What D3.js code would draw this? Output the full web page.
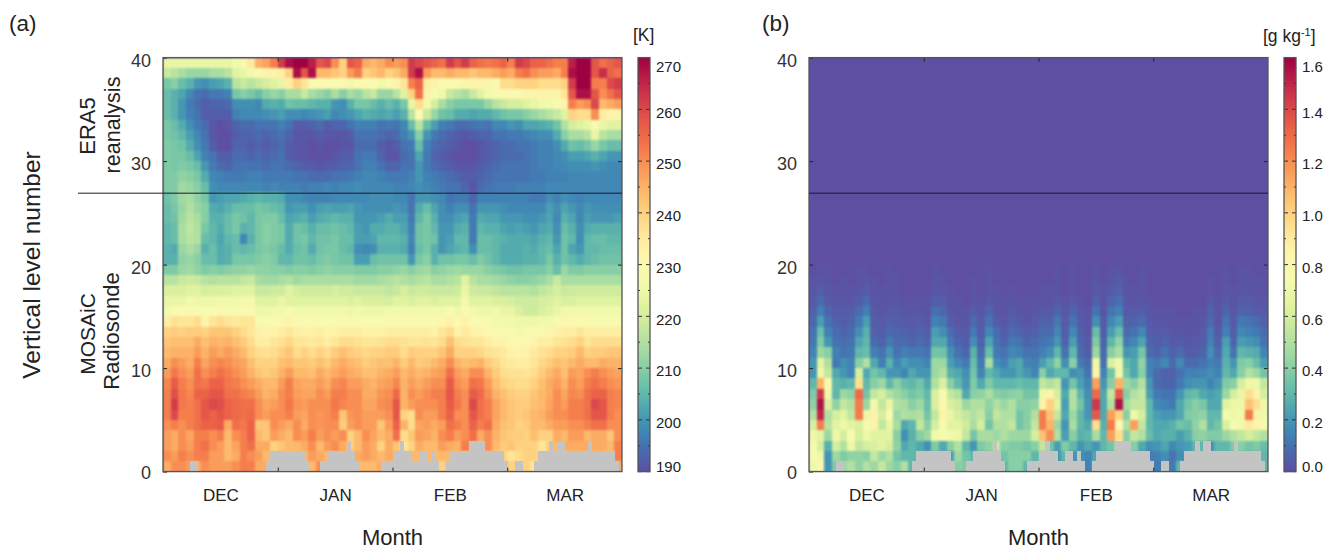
<!DOCTYPE html>
<html>
<head>
<meta charset="utf-8">
<script src="https://d3js.org/d3.v7.min.js"></script>
<style>
    body { margin: 0; background: #fff; }
    text { font-family: "Liberation Sans", Arial, sans-serif; fill: #222; }
    .heat { filter: blur(0.9px); }
</style>
</head>
<body>
<svg id="chart" width="1331" height="550"></svg>
<script>
// Month labels, the day they sit at, and the month boundaries (days from start of record)
const months = ["DEC", "JAN", "FEB", "MAR"];
const monthMid = [15, 45, 75, 105];
const monthEdges = [30, 60, 90];
const levelTicks = [0, 10, 20, 30, 40];
const tempTicks = [190, 200, 210, 220, 230, 240, 250, 260, 270];
const qvTicks = [0, 0.2, 0.4, 0.6, 0.8, 1.0, 1.2, 1.4, 1.6];

// Number of levels without data (grey), one entry per day
const missingLevels = [
    0,0,0,0,0,0,0,1,1,0,0,0,0,0,0,0,0,0,0,0,0,0,0,0,0,0,0,1,2,2,
    2,2,2,2,2,2,2,1,0,0,0,1,1,2,2,2,2,2,3,2,1,0,0,0,0,0,0,1,1,1,
    2,2,3,2,2,1,1,2,2,1,2,1,0,0,1,2,2,2,2,2,3,3,3,3,2,2,2,2,2,1,
    0,0,1,1,0,0,0,1,2,2,2,3,2,3,3,2,2,2,2,2,2,3,2,2,2,2,2,2,1,0
];

// Temperature [K], 2-day columns, rows from level 40 down to level 1
const tempRows = [
    [224,224,224,224,224,224,224,224,224,226,228,235,245,247,252,262,268,270,270,266,258,260,250,240,258,256,246,244,246,250,248,250,262,260,258,256,254,262,258,262,256,254,253,254,256,252,262,260,256,256,254,252,252,266,270,270,258,254,256,258],
    [218,216,214,212,212,212,214,214,216,222,224,226,230,232,232,234,240,268,258,268,244,244,242,240,248,252,240,242,244,240,242,246,262,268,248,244,244,246,244,244,242,244,244,246,248,246,252,254,250,248,248,246,252,268,270,270,258,264,256,254],
    [208,210,206,204,200,199,201,202,204,216,218,216,218,220,222,224,234,240,236,228,230,230,228,230,226,228,230,230,226,228,232,236,252,256,234,232,230,230,228,232,232,232,232,230,238,238,240,240,240,238,238,238,240,262,270,270,252,252,260,262],
    [206,204,202,198,195,194,196,196,197,208,210,208,206,210,212,210,214,214,218,214,212,210,214,210,214,212,216,218,212,212,216,222,240,254,232,228,226,218,216,214,218,222,226,228,230,230,230,232,232,232,232,232,236,258,268,268,258,250,254,258],
    [206,204,200,196,194,192,193,193,194,199,199,199,198,203,204,203,207,206,206,205,204,204,200,199,204,208,208,206,204,206,204,208,224,238,226,220,214,210,208,208,208,208,212,216,218,220,220,222,224,226,226,228,232,252,248,250,260,244,246,248],
    [206,204,200,197,195,192,192,192,192,197,198,198,198,199,200,201,199,199,198,199,200,201,198,199,200,202,204,203,202,203,201,204,216,230,218,212,207,206,203,203,202,203,203,205,207,208,208,210,212,214,216,218,222,240,238,238,250,234,232,232],
    [208,206,203,199,196,194,191,190,191,193,194,194,195,195,195,197,195,192,192,193,194,192,193,193,195,197,197,197,195,196,195,198,206,216,206,201,197,196,194,194,195,196,195,198,198,200,199,202,202,203,204,207,215,220,222,224,228,224,222,222],
    [208,207,205,201,198,195,191,190,190,192,193,193,194,193,194,195,193,191,191,191,192,191,191,191,192,195,195,195,194,193,194,197,200,210,200,196,194,193,192,191,192,193,193,195,195,196,196,197,198,199,199,203,210,214,214,216,224,216,214,214],
    [209,208,207,203,199,196,192,190,190,193,193,192,193,192,193,194,192,191,191,190,191,190,190,191,191,194,194,194,192,191,192,195,196,206,197,194,193,192,191,190,190,191,192,193,194,194,195,195,196,197,197,199,203,207,206,208,212,208,206,206],
    [209,208,208,206,202,197,195,192,192,194,194,193,194,193,194,195,192,191,191,190,190,190,191,192,192,195,196,196,193,191,191,194,195,202,196,193,192,191,190,190,190,191,192,193,194,194,194,195,196,197,197,198,199,201,201,202,204,202,200,200],
    [209,208,209,208,206,200,196,194,193,195,195,195,195,194,195,195,194,193,192,192,191,192,192,193,193,195,197,197,195,193,193,195,195,200,196,194,193,192,191,191,191,192,193,194,195,195,195,195,196,197,197,198,198,199,199,199,200,199,198,198],
    [209,209,211,210,208,203,198,197,196,196,196,197,197,196,196,196,196,195,195,194,194,194,195,195,196,197,198,198,197,196,196,196,197,200,197,196,195,194,193,192,192,193,194,195,195,195,195,195,196,196,197,197,197,198,198,198,198,198,198,198],
    [209,209,213,212,210,206,199,198,198,198,198,198,198,197,198,197,197,197,196,197,197,198,197,198,198,199,198,198,198,198,197,197,198,199,198,197,196,195,195,193,191,194,195,196,196,196,197,197,197,197,198,198,198,198,198,198,198,198,198,198],
    [207,209,213,214,211,208,200,201,202,202,203,204,205,204,204,203,199,199,198,197,197,197,198,198,198,198,198,199,199,199,198,198,195,200,200,199,198,195,196,196,193,197,197,197,197,197,197,197,196,196,199,197,199,198,197,198,198,198,198,198],
    [206,208,212,215,212,210,203,202,204,206,206,206,208,207,206,205,200,201,201,199,201,202,201,201,202,200,199,199,199,199,200,199,195,203,206,202,199,197,199,199,195,200,200,200,199,198,198,198,198,198,201,199,202,200,198,200,199,199,199,199],
    [206,207,213,216,214,210,204,204,206,208,207,205,208,209,209,206,202,203,204,201,203,204,205,204,204,200,200,200,201,203,201,201,196,205,208,204,199,199,201,202,196,203,202,202,200,200,200,199,199,200,202,198,204,202,198,201,200,200,200,201],
    [205,206,214,217,215,208,205,203,206,208,204,205,208,210,209,208,203,207,206,204,206,206,207,206,205,201,200,203,203,204,204,202,197,207,208,205,200,200,203,204,196,205,204,204,202,201,202,201,200,202,203,199,206,204,199,203,204,204,204,204],
    [205,206,214,216,215,206,205,202,205,206,198,204,208,210,209,208,203,207,208,205,207,207,208,206,206,201,201,202,205,205,205,204,198,207,208,207,200,201,205,205,196,206,206,205,204,203,203,203,202,204,205,200,207,205,199,205,206,206,205,205],
    [204,203,212,214,212,204,206,203,204,206,205,206,208,209,208,206,203,206,207,203,207,208,208,206,205,199,198,199,204,204,204,203,197,206,208,204,200,202,204,205,199,206,206,205,203,203,203,204,203,205,206,202,207,202,200,205,205,206,206,206],
    [204,204,211,212,210,206,206,203,204,208,208,208,209,210,209,205,205,207,207,206,208,209,208,207,207,201,201,206,207,207,207,207,200,208,210,204,207,207,208,208,206,209,207,205,203,203,203,204,204,205,208,204,207,205,203,205,206,207,207,207],
    [209,209,212,213,211,209,210,209,210,211,211,212,211,211,210,210,209,210,210,209,210,211,210,210,210,209,209,209,210,210,211,212,210,212,213,210,211,212,213,212,212,212,210,209,208,207,207,208,208,208,210,206,212,209,209,210,210,210,210,210],
    [216,216,218,219,218,216,215,216,216,216,217,218,214,213,213,214,215,213,214,214,214,214,214,214,214,213,213,213,214,215,216,215,214,215,216,214,214,215,216,222,216,214,214,213,212,211,210,210,211,212,214,218,214,214,214,214,214,214,214,214],
    [221,221,221,222,222,220,221,221,221,222,222,222,218,218,219,219,222,220,219,219,219,219,220,219,219,218,218,218,218,217,218,220,218,219,219,218,218,218,219,224,219,218,218,217,216,216,216,216,215,217,218,220,218,219,219,219,219,219,219,219],
    [224,224,224,226,225,225,225,226,226,226,227,227,222,222,222,224,222,222,222,222,222,222,222,222,221,222,221,221,221,220,222,222,221,222,222,221,222,222,222,227,222,222,222,221,221,220,219,219,219,220,221,222,221,221,222,222,222,222,222,222],
    [226,229,228,229,228,228,229,231,228,228,230,230,225,225,226,226,229,226,226,226,226,226,226,226,225,226,225,225,225,226,226,226,226,226,226,226,226,228,225,229,226,225,225,226,224,224,221,219,219,221,222,224,226,226,226,226,226,226,226,226],
    [234,237,236,236,238,232,236,238,236,235,236,236,228,229,229,228,232,229,228,229,228,228,229,229,229,229,228,228,228,228,230,229,229,228,229,229,231,233,229,233,229,228,228,227,227,226,225,225,225,226,226,228,231,231,229,230,229,228,228,228],
    [240,241,240,241,241,240,242,242,242,240,238,236,233,232,233,234,236,234,233,233,234,232,233,234,234,234,233,233,233,234,234,234,234,234,234,233,236,238,233,235,233,232,231,229,228,228,227,228,228,230,231,233,234,234,236,234,234,234,234,234],
    [242,243,243,243,246,243,245,244,245,243,241,238,234,234,236,237,239,236,236,235,236,234,236,238,238,237,236,236,237,238,238,237,236,236,237,236,238,243,238,237,236,236,234,232,232,231,230,231,232,234,234,236,237,238,240,236,238,238,238,238],
    [244,245,245,245,248,245,248,246,248,246,244,240,238,237,238,240,242,238,240,238,240,238,241,243,241,240,239,240,240,241,241,238,241,240,240,240,242,246,240,240,240,239,237,236,235,233,232,233,235,237,238,240,240,241,244,240,241,241,242,242],
    [246,250,248,246,252,247,250,251,250,248,247,243,240,240,240,243,244,242,242,241,243,241,244,246,244,243,241,242,243,243,245,241,244,241,242,244,246,250,245,243,244,245,241,239,236,235,234,234,236,239,241,243,242,244,246,244,244,246,245,245],
    [248,253,250,248,254,250,252,254,252,250,248,245,242,241,242,245,248,244,244,243,246,244,246,248,246,245,243,243,245,246,248,244,246,244,245,247,248,254,248,246,250,250,245,241,238,237,237,236,238,241,244,246,243,248,247,250,252,250,248,247],
    [251,257,252,250,254,253,256,256,253,252,250,248,246,244,244,248,252,247,246,246,248,246,250,251,248,248,246,245,247,248,251,245,248,246,248,250,250,257,250,248,254,253,248,243,240,239,238,238,240,243,246,248,245,250,248,252,254,252,250,249],
    [252,259,253,251,256,256,258,258,254,254,252,251,248,245,246,250,252,248,247,247,250,248,252,252,250,250,246,246,249,250,255,245,250,248,250,252,252,258,252,250,257,255,250,245,243,241,240,240,242,244,246,250,247,251,250,254,256,256,252,251],
    [252,262,253,252,254,258,260,259,256,255,254,254,250,247,248,250,253,249,248,250,250,250,253,251,250,250,247,247,250,251,258,245,248,250,250,250,252,257,253,250,260,254,252,247,244,242,241,241,243,244,247,250,248,252,252,254,260,258,252,251],
    [252,260,252,252,254,258,256,258,256,255,254,255,250,248,250,250,252,248,247,250,249,250,252,242,249,250,248,248,248,250,258,240,238,250,248,248,252,256,250,250,258,254,252,247,244,242,241,242,244,245,248,250,250,252,252,254,258,258,252,250],
    [250,252,250,252,254,256,256,257,246,254,253,256,242,242,250,248,246,250,246,250,249,250,250,241,248,250,248,248,242,248,256,245,238,247,248,246,248,254,252,250,256,252,254,246,243,242,240,241,244,244,246,248,248,250,250,252,254,254,250,250],
    [248,246,250,247,252,252,250,252,244,250,252,256,244,242,248,246,244,250,248,252,248,250,248,250,240,244,250,247,244,246,254,238,242,248,247,245,250,252,248,250,254,246,250,245,242,241,241,240,243,240,240,246,244,248,248,244,246,246,242,250],
    [248,246,250,248,252,254,250,248,244,247,252,254,246,246,240,242,244,244,246,250,244,248,250,246,240,244,248,246,240,246,242,236,240,246,244,244,248,246,245,252,248,244,250,244,241,242,240,240,240,236,240,244,246,246,246,246,246,246,244,252],
    [250,248,252,250,252,252,248,248,244,246,252,250,248,244,244,246,244,244,244,248,246,244,246,246,246,246,248,246,244,246,246,244,244,244,244,244,244,244,244,244,244,244,244,240,240,236,238,240,240,240,240,244,244,244,244,244,244,244,244,252],
    [246,250,250,248,246,250,248,248,248,250,252,252,246,246,244,244,244,244,244,244,250,246,244,244,244,244,244,244,246,244,244,244,244,244,244,244,240,244,244,244,244,244,244,244,244,240,240,240,236,240,240,244,244,244,244,244,244,244,244,246]
];

// Specific humidity [hundredths of g/kg], rows from level 20 down to level 1, above that it reads 0
const qvRows = [
    [0,1,1,0,0,0,1,1,0,0,1,0,0,0,0,0,1,0,0,0,0,0,0,1,0,0,0,0,0,0,0,0,1,0,1,0,0,1,0,1,2,0,0,1,0,0,0,0,0,0,0,0,0,0,1,0,1,1,0,0],
    [1,2,1,0,1,0,1,2,1,0,1,1,0,0,0,0,1,1,0,0,0,1,0,1,0,0,0,0,0,0,0,0,1,0,1,0,0,2,0,2,3,1,0,1,0,0,0,0,0,0,0,0,1,0,1,0,1,1,1,1],
    [2,4,2,1,1,1,2,4,1,1,2,1,0,0,0,0,2,2,1,0,0,1,0,1,1,0,1,0,0,0,1,1,1,0,1,0,0,3,1,3,5,1,1,1,0,0,0,0,0,0,0,0,1,0,2,1,2,2,1,1],
    [3,8,3,2,2,2,4,8,2,1,2,2,1,1,1,1,4,4,1,1,0,2,1,3,1,1,1,1,1,1,1,1,3,1,3,1,0,5,1,6,9,2,1,2,1,0,0,0,0,0,0,0,3,1,3,1,3,3,2,2],
    [5,14,6,3,3,4,8,14,3,2,3,3,2,2,2,1,9,7,2,1,1,4,2,6,2,1,3,2,1,2,3,3,6,2,6,2,1,10,2,10,14,3,3,4,2,1,1,1,0,0,1,1,5,1,6,2,6,5,4,3],
    [7,22,10,5,4,6,12,22,4,3,5,4,3,3,4,2,14,12,4,2,2,8,3,10,4,2,5,3,2,3,6,5,12,3,10,3,1,18,3,16,22,5,6,8,3,2,2,1,1,1,1,2,8,2,10,3,12,10,8,5],
    [10,32,14,8,6,8,18,28,5,4,8,6,5,4,6,4,22,18,8,4,3,12,4,16,8,4,8,6,4,5,8,8,16,4,16,5,2,32,4,22,32,8,10,16,4,3,4,2,2,1,2,3,12,3,14,4,16,14,12,8],
    [12,38,20,10,8,10,24,30,8,6,12,8,8,6,8,6,25,25,12,6,4,18,6,24,10,6,12,10,6,8,10,12,20,6,22,6,3,38,6,30,42,12,16,24,6,4,6,3,4,2,3,4,14,5,22,6,22,20,18,10],
    [15,45,40,14,10,12,30,32,14,10,20,10,14,12,12,10,35,34,18,10,6,28,8,32,12,10,16,14,10,10,14,18,30,10,30,8,4,45,8,40,48,20,22,35,8,6,10,5,8,4,4,6,18,8,25,10,30,28,26,15],
    [20,65,50,12,18,15,40,50,25,14,28,16,22,18,18,15,45,45,22,16,12,32,12,48,18,14,22,25,15,14,22,30,42,18,40,12,8,70,10,62,70,30,25,42,14,12,16,8,16,8,8,10,14,12,28,20,38,40,32,22],
    [20,70,55,25,20,15,60,25,35,30,20,20,15,25,20,20,45,50,28,25,18,35,15,30,25,20,20,25,20,15,40,25,30,30,18,20,10,85,15,35,70,35,25,40,15,8,5,5,10,14,14,15,18,15,30,25,40,50,45,35],
    [30,110,75,30,28,30,95,30,40,45,30,40,32,30,35,25,50,62,40,30,20,38,25,38,30,30,30,32,30,30,55,50,55,20,35,22,15,115,20,40,110,45,40,50,20,8,6,6,12,18,20,20,15,20,38,40,60,70,70,55],
    [38,145,70,30,45,42,130,35,55,60,50,45,40,35,38,30,62,75,55,50,25,40,42,48,40,38,40,42,35,35,70,85,60,25,50,30,18,130,25,55,135,40,50,55,22,12,10,10,20,30,32,25,22,25,45,60,68,95,85,60],
    [42,155,62,42,55,50,125,45,72,55,68,50,48,40,45,32,62,80,62,58,45,50,50,42,50,45,50,40,40,42,85,100,65,22,50,35,20,145,25,50,155,48,55,55,30,16,14,12,25,35,40,36,25,25,65,70,70,105,95,70],
    [50,150,50,60,65,55,125,70,85,60,80,45,50,48,50,35,55,85,68,60,55,50,55,40,55,50,50,35,40,50,125,105,55,25,45,30,20,135,25,115,100,40,70,60,30,22,20,20,25,38,40,42,30,30,75,70,72,125,85,72],
    [60,125,52,65,70,65,62,75,85,55,68,48,25,30,55,40,60,75,65,65,58,48,60,35,50,50,55,35,40,55,125,110,45,20,48,30,25,95,28,125,80,50,115,55,30,25,25,28,35,32,42,50,30,35,62,75,72,90,85,75],
    [70,65,45,70,60,75,60,70,65,65,65,40,18,28,40,45,72,75,72,70,55,35,48,48,45,50,45,45,45,60,105,120,50,22,40,28,30,48,30,115,95,40,55,50,32,25,28,28,22,28,40,42,38,38,45,50,55,60,55,50],
    [75,60,28,60,50,70,55,60,62,65,60,42,25,30,25,18,38,25,40,50,30,20,38,42,58,40,38,38,35,40,55,35,22,38,30,20,25,20,30,35,85,40,40,25,18,20,24,16,20,22,30,30,18,30,30,38,40,35,38,32],
    [75,70,20,45,38,42,42,40,55,45,50,35,30,30,30,30,30,30,22,45,35,30,30,35,30,35,40,40,40,30,40,30,20,30,20,18,15,25,25,30,40,30,30,20,12,14,18,10,18,20,30,30,30,30,30,30,30,30,30,30],
    [70,80,20,38,45,50,42,50,45,55,45,40,50,30,30,30,30,30,35,40,38,30,30,30,30,30,40,40,30,30,30,30,25,20,18,30,14,30,30,30,30,30,30,30,30,12,14,12,30,30,30,30,30,30,30,30,30,30,30,30]
];

// Layout
const plotTop = 57.6, plotBottom = 471.6;
const dividerLevel = 26.9;
const panelA = { left: 163, right: 622, barLeft: 638, barRight: 650 };
const panelB = { left: 809, right: 1268, barLeft: 1284, barRight: 1296 };

const svg = d3.select("#chart");
const frameColor = "#555";

let yLevel = d3.scaleLinear().domain([0, 40]).range([plotBottom, plotTop]);

// Nudge for a tick label, the end labels sit inside the range in the original
function labelShift(i, n, first, last) {
    if (i === 0) return first;
    if (i === n - 1) return last;
    return 3;
}

/** Draw the heat cells, grey mask, axes and frame of one panel */
function drawHeat(pos, rows, topLevel, color, lineFrom) {
    let xDay = d3.scaleLinear().domain([0, 120]).range([pos.left, pos.right]);
    let colDays = 120 / rows[0].length;

    let g = svg.append("g");
    let clipId = "clip" + pos.left;
    g.append("clipPath").attr("id", clipId).append("rect")
        .attr("x", pos.left).attr("y", plotTop)
        .attr("width", pos.right - pos.left).attr("height", plotBottom - plotTop);

    let heat = g.append("g").attr("clip-path", "url(#" + clipId + ")").append("g").attr("class", "heat");

    // everything above the top row is at the bottom of the colour range
    heat.append("rect")
        .attr("x", pos.left - 3).attr("y", plotTop - 3)
        .attr("width", pos.right - pos.left + 6).attr("height", plotBottom - plotTop + 6)
        .attr("fill", color(color.domain()[0]));

    let cells = [];
    rows.forEach((row, r) => {
        row.forEach((v, c) => {
            cells.push({ level: topLevel - r, day: c * colDays, value: v });
        });
    });

    heat.selectAll("rect.cell").data(cells).enter().append("rect")
        .attr("class", "cell")
        .attr("shape-rendering", "crispEdges")
        .attr("x", d => xDay(d.day))
        .attr("y", d => yLevel(d.level))
        .attr("width", d => xDay(d.day + colDays) - xDay(d.day) + 0.5)
        .attr("height", d => yLevel(d.level - 1) - yLevel(d.level) + 0.5)
        .attr("fill", d => color(d.value));

    // grey = no observation
    g.append("g").attr("clip-path", "url(#" + clipId + ")")
        .selectAll("rect.gap").data(missingLevels).enter().append("rect")
        .attr("class", "gap")
        .attr("shape-rendering", "crispEdges")
        .attr("x", (d, i) => xDay(i))
        .attr("y", d => yLevel(d))
        .attr("width", (d, i) => xDay(i + 1) - xDay(i) + 0.5)
        .attr("height", d => yLevel(0) - yLevel(d))
        .attr("fill", "#c4c4c4");

    // inner ticks on all four sides
    let axes = [
        d3.axisLeft(yLevel).tickValues(levelTicks).tickSize(-4).tickPadding(12),
        d3.axisRight(yLevel).tickValues(levelTicks.slice(1, 4)).tickSize(-4).tickFormat(""),
        d3.axisBottom(xDay).tickValues(monthEdges).tickSize(-4).tickFormat(""),
        d3.axisTop(xDay).tickValues(monthEdges).tickSize(-4).tickFormat("")
    ];
    let shifts = [[pos.left, 0], [pos.right, 0], [0, plotBottom], [0, plotTop]];
    axes.forEach((axis, i) => {
        let a = g.append("g").attr("transform", "translate(" + shifts[i] + ")").call(axis);
        a.select(".domain").remove();
        a.selectAll("line").attr("stroke", "#222").attr("stroke-width", 1);
        a.selectAll("text").attr("font-size", 18).style("fill", "#333");
        if (i === 0) {
            a.selectAll("text")
                .attr("dy", (d, j) => (0.32 * 18 + labelShift(j, levelTicks.length, 1, 3.5)) + "px");
        }
    });

    // month names
    let monthAxis = d3.axisBottom(xDay).tickValues(monthMid).tickSize(0).tickPadding(17)
        .tickFormat((d, i) => months[i]);
    let m = g.append("g").attr("transform", "translate(0," + plotBottom + ")").call(monthAxis);
    m.select(".domain").remove();
    m.selectAll("text").attr("font-size", 17).style("fill", "#222");

    g.append("rect")
        .attr("x", pos.left).attr("y", plotTop)
        .attr("width", pos.right - pos.left).attr("height", plotBottom - plotTop)
        .attr("fill", "none").attr("stroke", frameColor).attr("stroke-width", 1.3);

    // reanalysis / radiosonde boundary
    g.append("line")
        .attr("x1", lineFrom).attr("x2", pos.right)
        .attr("y1", yLevel(dividerLevel)).attr("y2", yLevel(dividerLevel))
        .attr("stroke", "#1a1a2a").attr("stroke-width", 1);

    g.append("text").attr("x", (pos.left + pos.right) / 2).attr("y", 545)
        .attr("text-anchor", "middle").attr("font-size", 22).text("Month");
}

/** Colour bar, drawn as 1 px strips from the same colour scale */
function drawBar(pos, color, ticks, fmt) {
    let g = svg.append("g");
    let yBar = d3.scaleLinear().domain(color.domain()).range([plotBottom, plotTop]);

    g.selectAll("rect").data(d3.range(plotTop, plotBottom, 1)).enter().append("rect")
        .attr("x", pos.barLeft).attr("width", pos.barRight - pos.barLeft)
        .attr("y", d => d).attr("height", 1.5)
        .attr("fill", d => color(yBar.invert(d + 0.5)));

    let step = ticks[1] - ticks[0];
    let minor = d3.range(ticks.length - 1).map(i => ticks[i] + step / 2);

    [[ticks, 4], [minor, 2]].forEach(t => {
        [[pos.barLeft, 1], [pos.barRight, -1]].forEach(side => {
            g.selectAll(null).data(t[0]).enter().append("line")
                .attr("x1", side[0]).attr("x2", side[0] + side[1] * t[1])
                .attr("y1", d => yBar(d)).attr("y2", d => yBar(d))
                .attr("stroke", "#333").attr("stroke-width", 1);
        });
    });

    g.selectAll("text").data(ticks).enter().append("text")
        .attr("x", pos.barRight + 6)
        .attr("y", (d, i) => yBar(d) + labelShift(i, ticks.length, -4.5, 9) + 5.3)
        .attr("font-size", 15)
        .text(fmt);

    g.append("rect")
        .attr("x", pos.barLeft).attr("y", plotTop)
        .attr("width", pos.barRight - pos.barLeft).attr("height", plotBottom - plotTop)
        .attr("fill", "none").attr("stroke", frameColor).attr("stroke-width", 1.3);
}

let tempColor = d3.scaleSequential(t => d3.interpolateSpectral(1 - t)).domain([190, 270]);
let qvColor = d3.scaleSequential(t => d3.interpolateSpectral(1 - t)).domain([0, 160]);
let qvBarColor = d3.scaleSequential(t => d3.interpolateSpectral(1 - t)).domain([0, 1.6]);

drawHeat(panelA, tempRows, 40, tempColor, 78);
drawHeat(panelB, qvRows, 20, qvColor, panelB.left);
drawBar(panelA, tempColor, tempTicks, d => d);
drawBar(panelB, qvBarColor, qvTicks, d => d.toFixed(1));

// Panel letters, units and side titles
svg.append("text").attr("x", 9).attr("y", 31).attr("font-size", 22.5).text("(a)");
svg.append("text").attr("x", 762).attr("y", 31).attr("font-size", 22.5).text("(b)");
svg.append("text").attr("x", 633).attr("y", 41).attr("font-size", 17.5).text("[K]");

let unit = svg.append("text").attr("x", 1263).attr("y", 42).attr("font-size", 17.5);
unit.append("tspan").text("[g kg");
unit.append("tspan").attr("dy", -6).attr("font-size", 11).text("-1");
unit.append("tspan").attr("dy", 6).text("]");

function sideTitle(x, y, size, label) {
    svg.append("text")
        .attr("transform", "translate(" + x + "," + y + ") rotate(-90)")
        .attr("text-anchor", "middle").attr("font-size", size).text(label);
}
sideTitle(40, 265, 24.5, "Vertical level number");
sideTitle(95, 126, 22, "ERA5");
sideTitle(120, 125, 21.5, "reanalysis");
sideTitle(95, 334, 21, "MOSAiC");
sideTitle(119, 331, 22, "Radiosonde");
</script>
</body>
</html>
